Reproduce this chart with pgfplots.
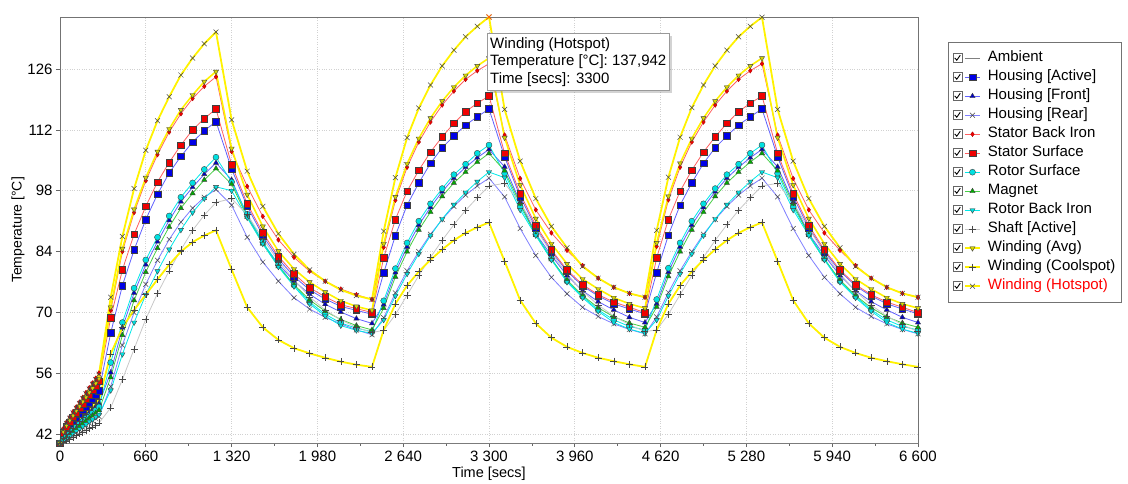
\documentclass[border=0pt]{standalone}
\usepackage{pgfplots}
\pgfplotsset{compat=1.18}
\usepackage{pgfplotstable}
\usepackage{fontspec}
\setmainfont{Liberation Sans}
\usetikzlibrary{shadows}
\definecolor{lineblue}{RGB}{95,95,255}
\definecolor{linered}{RGB}{255,95,95}
\definecolor{linecyan}{RGB}{0,232,232}
\definecolor{linegreen}{RGB}{70,205,70}
\definecolor{lineyellow}{RGB}{255,242,0}
\definecolor{linegray}{RGB}{200,200,200}
\definecolor{mkblue}{RGB}{0,0,230}
\definecolor{mkred}{RGB}{240,0,0}
\definecolor{mkcyan}{RGB}{0,225,225}
\definecolor{mkgreen}{RGB}{0,170,0}
\definecolor{mkyellow}{RGB}{215,215,0}
\definecolor{mkdark}{RGB}{70,70,70}

\pgfplotstableread{
t amb ha hf hr sbi ss rs mag rbi sh wavg wc wh
0 40 40 40 40 40 40 40 40 40 40 40 40 40
25 40 41.6 41.0 40.5 43.3 42.3 40.8 40.6 40.4 40.2 42.6 41.0 43.0
50 40 42.8 41.9 41.0 44.8 43.7 41.6 41.3 40.9 40.5 44.0 41.9 44.5
75 40 43.8 42.7 41.6 46.0 44.8 42.3 42.0 41.5 40.9 45.2 42.7 45.7
100 40 44.8 43.5 42.1 47.2 45.9 43.0 42.6 42.1 41.3 46.3 43.5 46.9
125 40 45.7 44.2 42.6 48.3 47.0 43.7 43.3 42.7 41.7 47.4 44.3 48.0
150 40 46.6 44.9 43.1 49.4 48.0 44.4 43.9 43.2 42.1 48.4 45.1 49.1
175 40 47.5 45.6 43.6 50.5 49.0 45.0 44.5 43.8 42.5 49.5 45.9 50.2
200 40 48.4 46.3 44.1 51.6 50.1 45.7 45.1 44.3 42.9 50.5 46.7 51.3
225 40 49.3 47.0 44.6 52.7 51.1 46.3 45.7 44.9 43.3 51.6 47.5 52.4
250 40 50.2 47.7 45.1 53.8 52.1 47.0 46.3 45.4 43.7 52.6 48.3 53.5
275 40 51.1 48.4 45.6 54.9 53.2 47.6 46.9 46.0 44.1 53.7 49.1 54.6
300 40 52.0 49.1 46.1 56.1 54.2 48.3 47.5 46.5 44.6 54.8 50.0 55.8
390 40 65.3 56.2 53.0 70.5 68.8 58.5 55.1 52.1 48.1 71.2 60.5 73.5
480 40 76.2 66.5 62.5 84.0 79.8 67.7 64.8 60.4 54.6 84.7 66.5 87.5
570 40 84.4 74.5 70.0 93.0 88.0 75.6 72.8 67.7 61.6 93.7 70.6 98.5
660 40 91.4 81.0 76.5 100.3 94.4 82.1 79.3 74.1 68.5 101.0 74.1 107.3
750 40 97.2 86.3 82.0 106.3 100.0 87.3 84.8 79.5 74.4 107.0 77.6 114.1
840 40 102.1 91.2 86.8 111.5 104.5 92.2 89.7 84.5 79.6 112.2 81.0 119.6
930 40 105.9 95.5 90.8 115.7 108.5 96.5 94.0 89.0 84.4 116.6 84.0 124.6
1020 40 109.2 98.8 94.0 119.2 112.0 99.8 97.4 93.0 88.9 120.0 86.2 128.5
1110 40 111.8 101.8 96.5 122.0 114.6 102.9 100.5 96.2 92.4 123.1 87.7 131.8
1200 40 113.9 104.4 98.3 124.2 116.8 105.7 103.1 98.9 95.3 125.4 88.9 134.5
1320 40 103.0 100.5 94.7 107.0 104.0 100.0 99.5 98.0 96.2 107.7 79.9 114.3
1440 40 94.4 92.3 87.3 99.0 95.0 92.6 92.0 91.8 92.5 97.1 71.2 102.5
1560 40 87.7 86.0 81.6 92.1 88.3 86.2 85.8 85.8 87.0 89.8 66.6 94.4
1680 40 82.3 81.1 77.2 86.7 82.9 80.9 80.6 80.5 81.8 84.1 63.7 88.1
1800 40 78.3 77.3 73.4 82.7 78.9 76.3 76.4 76.0 77.5 80.0 61.8 83.4
1920 40 75.2 74.2 70.8 79.5 75.7 72.4 72.9 72.0 73.6 77.0 60.6 79.8
2040 40 73.1 71.9 68.9 77.2 73.6 69.6 70.3 69.2 70.6 74.7 59.6 77.2
2160 40 71.4 70.1 67.4 75.4 71.8 67.6 68.4 67.0 68.3 72.7 58.7 75.2
2280 40 70.5 68.6 66.0 74.1 70.9 66.4 67.0 65.9 66.6 71.4 58.0 73.9
2400 40 69.6 67.5 64.9 73.0 70.0 65.6 66.0 65.2 65.4 70.5 57.5 73.0
2490 40 79.1 71.8 68.8 85.0 82.6 72.7 71.0 68.3 65.9 85.8 66.0 88.7
2580 40 87.7 79.2 74.5 95.8 91.4 80.1 78.2 73.8 69.5 96.6 72.0 101.0
2670 40 94.7 85.1 79.6 103.4 97.9 86.0 84.0 78.9 74.0 104.2 76.2 110.2
2760 40 99.8 90.1 84.0 109.2 102.7 91.0 89.0 83.5 78.5 110.0 79.4 117.0
2850 40 104.3 94.2 88.0 113.8 106.9 95.0 93.1 87.7 82.7 114.7 82.1 122.3
2940 40 107.9 97.8 91.4 117.7 110.4 98.5 96.7 91.5 86.6 118.6 84.5 126.7
3030 40 110.6 100.9 94.4 120.9 113.5 101.7 99.8 94.8 90.2 121.8 86.6 130.3
3120 40 113.1 103.4 97.0 123.6 116.2 104.1 102.3 97.6 93.5 124.5 88.3 133.4
3210 40 115.0 105.6 99.1 125.6 118.1 106.6 104.6 100.1 96.4 126.7 89.6 135.8
3300 40 116.8 107.5 100.9 127.2 119.8 108.5 106.6 102.3 99.1 128.5 90.7 137.942
3420 40 105.8 103.5 96.6 110.8 106.6 102.0 102.6 101.0 99.7 110.2 81.8 116.7
3540 40 96.6 95.4 89.3 100.8 97.3 94.3 95.0 93.6 95.2 99.3 72.8 104.8
3660 40 89.5 88.1 83.1 93.6 90.0 88.0 87.8 87.7 89.3 91.6 67.5 96.2
3780 40 84.0 83.1 78.1 88.3 84.4 82.4 82.2 82.1 83.6 85.8 64.2 89.8
3900 40 79.5 78.5 74.3 84.3 79.8 77.2 77.5 77.0 78.9 81.2 62.1 84.9
4020 40 76.1 75.0 71.2 80.8 76.4 73.7 73.9 73.4 74.9 77.7 60.7 80.6
4140 40 73.8 72.5 69.1 77.9 74.1 70.6 71.1 70.3 71.7 75.4 59.6 77.9
4260 40 72.0 70.6 67.4 75.8 72.4 68.3 69.0 67.7 69.2 73.4 58.8 75.8
4380 40 70.8 68.9 66.1 74.4 71.2 66.8 67.6 66.2 67.2 72.0 58.1 74.4
4500 40 69.7 67.7 65.1 73.5 70.0 66.0 66.6 65.2 65.6 71.0 57.5 73.5
4590 40 79.2 72.0 69.0 85.2 82.6 73.0 71.3 68.3 66.0 86.0 66.0 88.9
4680 40 87.8 79.3 74.6 95.9 91.4 80.2 78.3 73.8 69.6 96.7 72.0 101.1
4770 40 94.7 85.1 79.6 103.4 97.9 86.0 84.0 78.9 74.1 104.3 76.2 110.3
4860 40 99.8 90.1 84.0 109.2 102.7 91.0 89.0 83.5 78.5 110.0 79.4 117.1
4950 40 104.3 94.2 88.0 113.8 106.9 95.0 93.1 87.7 82.7 114.7 82.1 122.3
5040 40 107.9 97.8 91.4 117.7 110.4 98.5 96.7 91.5 86.6 118.6 84.5 126.7
5130 40 110.6 100.9 94.4 120.9 113.5 101.7 99.8 94.8 90.2 121.8 86.6 130.3
5220 40 113.1 103.4 97.0 123.6 116.2 104.1 102.3 97.6 93.5 124.5 88.3 133.4
5310 40 115.0 105.6 99.1 125.6 118.1 106.6 104.6 100.1 96.4 126.7 89.6 135.8
5400 40 116.8 107.5 100.9 127.2 119.8 108.5 106.6 102.3 99.1 128.5 90.7 137.9
5520 40 105.8 103.5 96.6 110.8 106.6 102.0 102.6 101.0 99.7 110.2 81.8 116.7
5640 40 96.6 95.4 89.3 100.8 97.3 94.3 95.0 93.6 95.2 99.3 72.8 104.8
5760 40 89.5 88.1 83.1 93.6 90.0 88.0 87.8 87.7 89.3 91.6 67.5 96.2
5880 40 84.0 83.1 78.1 88.3 84.4 82.4 82.2 82.1 83.6 85.8 64.2 89.8
6000 40 79.5 78.5 74.3 84.3 79.8 77.2 77.5 77.0 78.9 81.2 62.1 84.9
6120 40 76.1 75.0 71.2 80.8 76.4 73.7 73.9 73.4 74.9 77.7 60.7 80.6
6240 40 73.8 72.5 69.1 77.9 74.1 70.6 71.1 70.3 71.7 75.4 59.6 77.9
6360 40 72.0 70.6 67.4 75.8 72.4 68.3 69.0 67.7 69.2 73.4 58.8 75.8
6480 40 70.8 68.9 66.1 74.4 71.2 66.8 67.6 66.2 67.2 72.0 58.1 74.4
6600 40 69.7 67.7 65.1 73.5 70.0 66.0 66.6 65.2 65.6 71.0 57.5 73.5
}\data

\begin{document}
\begin{tikzpicture}
\path[use as bounding box] (0,0) rectangle (1128pt,483pt);
\begin{axis}[
  at={(60pt,40pt)}, anchor=south west,
  width=858pt, height=426pt, scale only axis,
  xmin=0, xmax=6600, ymin=40, ymax=137.942,
  xtick={0,660,1320,1980,2640,3300,3960,4620,5280,5940,6600},
  xticklabels={0,660,1 320,1 980,2 640,3 300,3 960,4 620,5 280,5 940,6 600},
  ytick={42,56,70,84,98,112,126},
  yticklabels={42,56,70,84,98,112,126},
  minor x tick num=1,
  tick align=outside,
  xtick pos=bottom, ytick pos=left,
  major tick length=4pt, minor tick length=2.5pt,
  every tick/.style={black!60, line width=0.6pt},
  tick label style={font=\fontsize{15}{15}\selectfont, text=black},
  grid=major,
  major grid style={black!18, dotted, line width=0.6pt},
  axis line style={black!55, line width=0.8pt},
  xlabel={Time [secs]}, ylabel={Temperature [°C]},
  every axis x label/.style={at={(rel axis cs:0.5,0)}, anchor=north, yshift=-24pt, inner sep=0pt, font=\fontsize{14.5}{14.5}\selectfont},
  every axis y label/.style={at={(rel axis cs:0,0.5)}, anchor=center, xshift=-42pt, rotate=90, inner sep=0pt, font=\fontsize{14}{14}\selectfont},
  legend style={at={(1.035,0.9413)}, anchor=north west, draw=black!55, fill=white,
    font=\fontsize{15}{15}\selectfont, inner xsep=4.5pt, inner ysep=7.5pt,
    nodes={inner sep=1pt, text height=11pt, text depth=4pt},
    row sep=2pt,
    /tikz/every odd column/.append style={column sep=6pt}},
  legend cell align=left,
  legend image code/.code={%
    \draw[draw=black!60,fill=white,solid,line width=0.5pt] (0pt,-4.5pt) rectangle (9pt,4.5pt);
    \draw[black,solid,line width=0.9pt] (1.8pt,0.3pt) -- (3.8pt,-2pt) -- (7.3pt,3pt);
    \draw[mark repeat=2,mark phase=2] plot coordinates {(12pt,0pt) (19.5pt,0pt) (27pt,0pt)};
  },
]
\addplot[color=black!50, line width=0.9pt, mark=none] table[x=t,y=amb]{\data};
\addlegendentry{Ambient}
\addplot[color=lineblue, line width=0.8pt, mark=square*, mark size=3.3pt, mark options={solid, fill=mkblue, draw=black!75, line width=0.4pt}] table[x=t,y=ha]{\data};
\addlegendentry{Housing [Active]}
\addplot[color=lineblue, line width=0.8pt, mark=triangle*, mark size=3pt, mark options={solid, fill=mkblue!85!black, draw=black!75, line width=0.4pt}] table[x=t,y=hf]{\data};
\addlegendentry{Housing [Front]}
\addplot[color=lineblue!80, line width=0.8pt, mark=x, mark size=3.5pt, mark options={solid, draw=mkdark, line width=0.5pt}] table[x=t,y=hr]{\data};
\addlegendentry{Housing [Rear]}
\addplot[color=linered, line width=0.8pt, mark=diamond*, mark size=2.4pt, mark options={solid, fill=mkred, draw=mkred!70!black, line width=0.3pt}] table[x=t,y=sbi]{\data};
\addlegendentry{Stator Back Iron}
\addplot[color=linered, line width=0.8pt, mark=square*, mark size=3.3pt, mark options={solid, fill=mkred, draw=black!75, line width=0.4pt}] table[x=t,y=ss]{\data};
\addlegendentry{Stator Surface}
\addplot[color=linecyan, line width=0.8pt, mark=*, mark size=3pt, mark options={solid, fill=mkcyan, draw=black!75, line width=0.4pt}] table[x=t,y=rs]{\data};
\addlegendentry{Rotor Surface}
\addplot[color=linegreen, line width=0.8pt, mark=triangle*, mark size=3pt, mark options={solid, fill=mkgreen, draw=black!75, line width=0.4pt}] table[x=t,y=mag]{\data};
\addlegendentry{Magnet}
\addplot[color=linecyan, line width=0.8pt, mark=triangle*, mark size=3pt, mark options={solid, rotate=180, fill=mkcyan, draw=black!75, line width=0.4pt}] table[x=t,y=rbi]{\data};
\addlegendentry{Rotor Back Iron}
\addplot[color=linegray, line width=0.8pt, mark=+, mark size=3.5pt, mark options={solid, draw=mkdark, line width=0.5pt}] table[x=t,y=sh]{\data};
\addlegendentry{Shaft [Active]}
\addplot[color=lineyellow, line width=1.6pt, mark=triangle*, mark size=3pt, mark options={solid, rotate=180, fill=mkyellow, draw=black!75, line width=0.4pt}] table[x=t,y=wavg]{\data};
\addlegendentry{Winding (Avg)}
\addplot[color=lineyellow, line width=1.8pt, mark=+, mark size=3.5pt, mark options={solid, draw=mkdark, line width=0.5pt}] table[x=t,y=wc]{\data};
\addlegendentry{Winding (Coolspot)}
\addplot[color=lineyellow, line width=1.8pt, mark=x, mark size=3.5pt, mark options={solid, draw=mkdark, line width=0.5pt}] table[x=t,y=wh]{\data};
\addlegendentry{\textcolor{red}{Winding (Hotspot)}}
\addplot[forget plot, only marks, mark=x, mark size=3.5pt, mark options={draw=orange!80!red, line width=1pt}] coordinates {(3300,137.942)};
\end{axis}
\node[draw=black!40, fill=white, anchor=north west, inner xsep=3pt, inner ysep=4pt, align=left,
  font=\fontsize{15}{17.5}\selectfont,
  drop shadow={shadow xshift=2.5pt, shadow yshift=-2.5pt, opacity=0.35}]
  at (487pt,450pt) {Winding (Hotspot)\\Temperature [°C]: 137,942\\Time [secs]: 3300};
\end{tikzpicture}
\end{document}
